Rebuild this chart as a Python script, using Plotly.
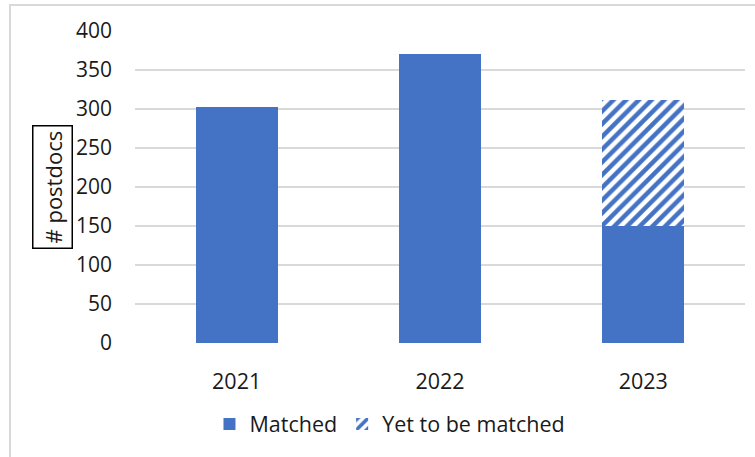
import plotly.graph_objects as go

years = ["2021", "2022", "2023"]
matched = [302, 370, 150]
yet_to_match = [0, 0, 161]
y_ticks = [0, 50, 100, 150, 200, 250, 300, 350, 400]

BLUE = "#4472C4"
FONT = "Open Sans, Liberation Sans, sans-serif"
TXT = "#1a1a1a"

fig = go.Figure()
fig.add_trace(go.Bar(name="Matched", x=years, y=matched,
                     marker=dict(color=BLUE, line=dict(width=0))))
fig.add_trace(go.Bar(name="Yet to be matched", x=years, y=yet_to_match,
                     marker=dict(color="white", line=dict(width=0),
                                 pattern=dict(shape="/", fgcolor=BLUE, bgcolor="white",
                                              fgopacity=1, size=9, solidity=0.5,
                                              fillmode="replace"))))

fig.update_layout(
    barmode="stack",
    bargap=0.596,
    width=755, height=457,
    margin=dict(l=135, r=10, t=31, b=114),
    paper_bgcolor="white", plot_bgcolor="white",
    font=dict(family=FONT, size=21, color=TXT),
    showlegend=True,
    legend=dict(orientation="h", x=0.418, xanchor="center", y=-0.26, yanchor="middle",
                font=dict(size=21.5, color=TXT), traceorder="normal",
                itemwidth=30),
    xaxis=dict(showgrid=False, showline=False, ticks="", ticklabelstandoff=23,
               tickfont=dict(size=21.5)),
    yaxis=dict(range=[0, 400], tickvals=y_ticks, showgrid=True, gridcolor="#d9d9d9",
               gridwidth=1.5, zeroline=False, showline=False, ticks="",
               ticklabelstandoff=22, tickfont=dict(size=21)),
)

fig.add_annotation(text="# postdocs", textangle=-90, xref="paper", yref="paper",
                   x=(52 - 135) / 610, y=(343 - 187) / 312, xanchor="center", yanchor="middle",
                   showarrow=False, bordercolor="black", borderwidth=1.5, borderpad=4,
                   font=dict(size=22, color=TXT))

fig.add_shape(type="rect", xref="paper", yref="paper",
              x0=(10 - 135) / 610, x1=(770 - 135) / 610,
              y0=(343 - 470) / 312, y1=(343 - 5) / 312,
              line=dict(color="#d9d9d9", width=2), layer="below")

fig.write_html("out.html", config={"displayModeBar": False},
               post_script="document.body.style.margin='0';")
